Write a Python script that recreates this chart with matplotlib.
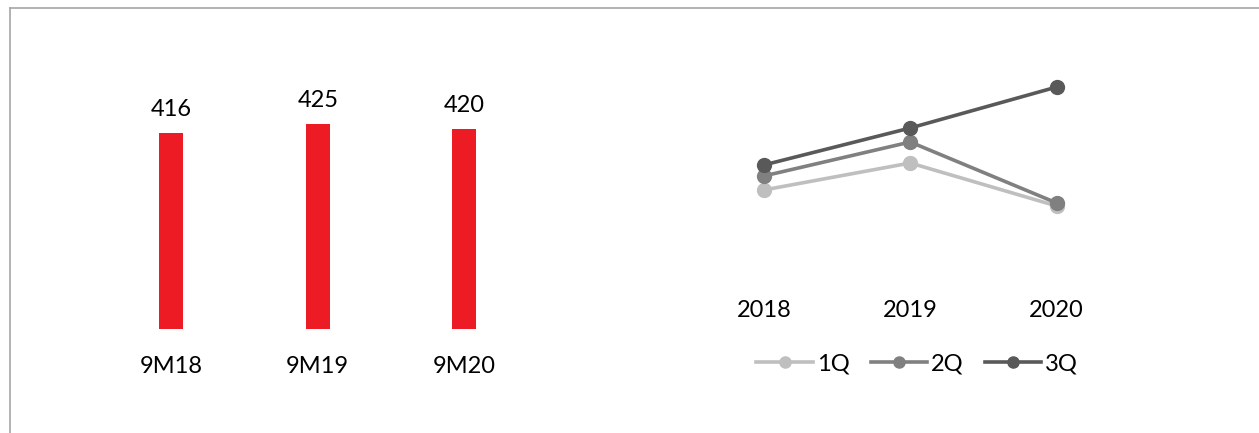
import matplotlib
matplotlib.use("Agg")
import matplotlib.pyplot as plt
from matplotlib.lines import Line2D

plt.rcParams['font.family'] = ['Lato', 'DejaVu Sans']

# Bar chart data
bar_categories = ["9M18", "9M19", "9M20"]
bar_values = [416, 425, 420]

# Line chart data (relative index levels)
years = ["2018", "2019", "2020"]
q1 = [139, 166, 123]
q2 = [153, 187, 126]
q3 = [164, 201, 242]
series_names = ["1Q", "2Q", "3Q"]

W, H = 1259, 433
FS = 17
fig = plt.figure(figsize=(W / 100, H / 100), dpi=100)

def ax_px(x0, y0, x1, y1):
    return fig.add_axes([x0 / W, 1 - y1 / H, (x1 - x0) / W, (y1 - y0) / H])

# Bars
ax1 = ax_px(98, 40, 537.5, 329)
xs = range(len(bar_categories))
ax1.bar(xs, bar_values, width=0.165, color="#ED1C24", bottom=0)
ax1.set_xlim(-0.5, 2.5)
ax1.set_ylim(220, 509)
for x, v in zip(xs, bar_values):
    ax1.annotate(str(v), (x, v), xytext=(0, 17), textcoords="offset pixels",
                 ha="center", va="baseline", fontsize=FS, color="#000000")
ax1.set_xticks(list(xs))
ax1.set_xticklabels(bar_categories, fontsize=FS, va="baseline")
ax1.tick_params(axis="x", length=0, pad=44 * 0.72)
ax1.set_yticks([])
for s in ax1.spines.values():
    s.set_visible(False)

# Lines
ax2 = ax_px(690.5, 40, 1130, 329)
colors = ["#BFBFBF", "#808080", "#595959"]
for name, vals, c in zip(series_names, [q1, q2, q3], colors):
    ax2.plot(range(len(years)), vals, color=c, lw=2.6, marker="o", ms=10, label=name)
ax2.set_xlim(-0.5, 2.5)
ax2.set_ylim(0, 289)
ax2.set_xticks(range(len(years)))
ax2.set_xticklabels(years, fontsize=FS, va="baseline")
ax2.tick_params(axis="x", length=0, pad=-12 * 0.72)
ax2.set_yticks([])
for s in ax2.spines.values():
    s.set_visible(False)

handles = [Line2D([0], [0], color=c, lw=2.6, marker="o", ms=8) for c in colors]
fig.legend(handles, series_names, loc="center", bbox_to_anchor=(917 / W, 1 - 364 / H),
           ncol=3, frameon=False, fontsize=FS, handlelength=2.4, handletextpad=0.15,
           columnspacing=0.9)

# Frame lines
fig.add_artist(Line2D([10 / W, 1], [1 - 8 / H, 1 - 8 / H], color="#A6A6A6", lw=1.2,
                      transform=fig.transFigure))
fig.add_artist(Line2D([10 / W, 10 / W], [1 - 8 / H, 0], color="#A6A6A6", lw=1.2,
                      transform=fig.transFigure))

fig.savefig("out.png", dpi=100)
